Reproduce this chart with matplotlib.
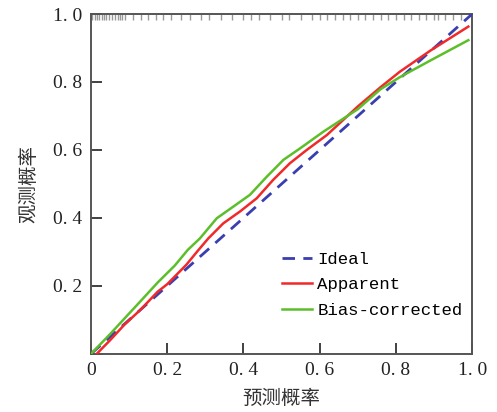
import matplotlib
matplotlib.use("Agg")
import matplotlib.pyplot as plt

plt.rcParams['font.family'] = ['Liberation Serif', 'Noto Sans CJK SC']

# calibration curves
ideal_x = [0.0, 1.0]
ideal_y = [0.0, 1.0]

app_x = [0.015, 0.05, 0.087, 0.13, 0.175, 0.20, 0.25, 0.28, 0.308, 0.347, 0.391, 0.435,
         0.478, 0.522, 0.566, 0.619, 0.70, 0.76, 0.81, 0.89, 0.99]
app_y = [0.0, 0.04, 0.085, 0.13, 0.183, 0.205, 0.262, 0.303, 0.34, 0.384, 0.419, 0.458,
         0.512, 0.561, 0.60, 0.644, 0.728, 0.785, 0.83, 0.892, 0.963]

bc_x = [0.0, 0.05, 0.087, 0.13, 0.175, 0.22, 0.254, 0.286, 0.33, 0.373, 0.417, 0.461,
        0.505, 0.549, 0.61, 0.70, 0.76, 0.81, 0.89, 0.99]
bc_y = [0.0, 0.058, 0.103, 0.155, 0.21, 0.26, 0.306, 0.34, 0.399, 0.433, 0.468, 0.521,
        0.571, 0.605, 0.654, 0.72, 0.779, 0.814, 0.863, 0.923]

# predicted probabilities shown as a rug along the top
rug = [0.003, 0.01, 0.015, 0.02, 0.028, 0.035, 0.04, 0.048, 0.055, 0.062, 0.07, 0.075, 0.082, 0.09,
       0.11, 0.13, 0.15, 0.17, 0.19, 0.21, 0.235, 0.26, 0.29, 0.31, 0.34, 0.37, 0.4, 0.42, 0.44,
       0.47, 0.5, 0.52, 0.55, 0.58, 0.6, 0.62, 0.64, 0.66, 0.68, 0.7, 0.72, 0.74, 0.76, 0.78,
       0.8, 0.82, 0.84, 0.86, 0.88, 0.9, 0.91, 0.93, 0.95, 0.97]

ticks = [0, 0.2, 0.4, 0.6, 0.8, 1.0]
xlabels = ['0', '0. 2', '0. 4', '0. 6', '0. 8', '1. 0']
ylabels = ['', '0. 2', '0. 4', '0. 6', '0. 8', '1. 0']

fig = plt.figure(figsize=(4.97, 4.12), dpi=100)
ax = fig.add_axes([0.183, 0.141, 0.767, 0.825])

ax.plot(ideal_x, ideal_y, color='#3a3fb0', lw=2, ls=(0, (4.5, 3)), label='Ideal', zorder=3)
ax.plot(app_x, app_y, color='#f02a2a', lw=1.8, label='Apparent', zorder=4,
        solid_joinstyle='round')
ax.plot(bc_x, bc_y, color='#5cbf2a', lw=1.8, label='Bias-corrected', zorder=5,
        solid_joinstyle='round')

ax.vlines(rug, 0.982, 1.0, color='#999999', lw=1.0, zorder=1)

ax.set_xlim(0, 1)
ax.set_ylim(0, 1)
ax.set_xticks(ticks)
ax.set_xticklabels(xlabels)
ax.set_yticks(ticks)
ax.set_yticklabels(ylabels)
ax.tick_params(direction='in', length=8, width=1.3, labelsize=14, color='#333333',
               labelcolor='#222222', pad=6)

for s in ax.spines.values():
    s.set_color('#555555')
    s.set_linewidth(1.4)

ax.set_xlabel('预测概率', fontsize=14, family=['Noto Sans CJK SC'], color='#333333', labelpad=6)
ax.set_ylabel('观测概率', fontsize=14, family=['Noto Sans CJK SC'], color='#333333', labelpad=10)

ax.legend(loc='lower left', bbox_to_anchor=(0.475, 0.075), frameon=False,
          prop={'family': 'Liberation Mono', 'size': 12.5}, handlelength=1.7,
          handletextpad=0.3, labelspacing=0.6, borderaxespad=0.2)

fig.savefig('out.png', dpi=100)
